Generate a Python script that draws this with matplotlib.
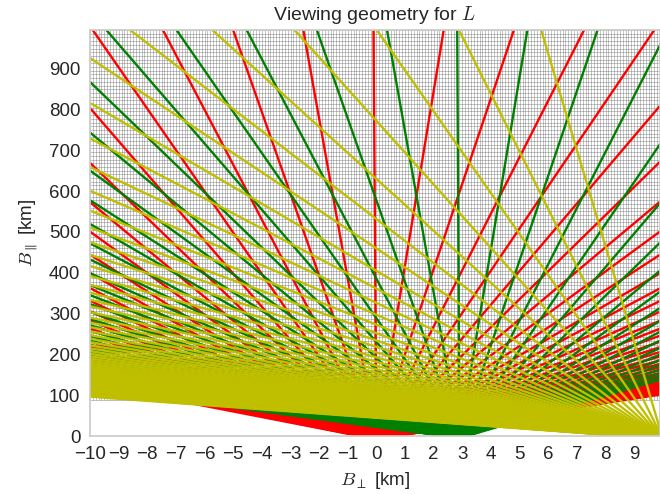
import numpy as np
import matplotlib
matplotlib.use("Agg")
import matplotlib.pyplot as plt

plt.rcParams['font.family'] = ['Liberation Sans', 'DejaVu Sans']
plt.rcParams['mathtext.fontset'] = 'cm'
plt.rcParams['text.color'] = '#262626'
plt.rcParams['axes.labelcolor'] = '#262626'
plt.rcParams['xtick.color'] = '#262626'
plt.rcParams['ytick.color'] = '#262626'

# reconstruction grid (km)
grid_x = np.arange(-10.0, 9.95, 0.1)
grid_y = np.linspace(88, 995, 101)

# cameras: origin (B_perp, B_par) and ray slopes dB_perp/dB_par
cam_names = ['red', 'green', 'yellow']
cam_colors = ['r', 'g', 'y']
cam_x = [0.0, 2.9, 10.0]
cam_y = [-8.0, -5.0, -7.0]
slope_first = [-0.0734, -0.10543, -0.00424]
slope_last = [0.0903, 0.04892, -0.1933]
n_rays = [68, 64, 67]

fig = plt.figure(figsize=(6.6, 4.94), dpi=100)
ax = fig.add_axes([90 / 660, 58 / 494, 570 / 660, 406 / 494])

# grid lines
ax.vlines(grid_x, grid_y[0], grid_y[-1], color='0.4', lw=0.5, alpha=0.55, zorder=1)
ax.hlines(grid_y, grid_x[0], grid_x[-1], color='0.4', lw=0.5, alpha=0.55, zorder=1)

y_end = 1100.0
for i in range(len(cam_names)):
    slopes = np.linspace(slope_first[i], slope_last[i], n_rays[i])
    for s in slopes:
        xs = [cam_x[i], cam_x[i] + s * (y_end - cam_y[i])]
        ys = [cam_y[i], y_end]
        ax.plot(xs, ys, color=cam_colors[i], lw=1.7, zorder=2 + i)

ax.set_xlim(-10, 9.9)
ax.set_ylim(0, 995)
ax.set_xticks(np.arange(-10, 10, 1))
ax.set_yticks(np.arange(0, 1000, 100))
ax.tick_params(labelsize=13.5, length=0, pad=7)
for sp in ax.spines.values():
    sp.set_color('#cccccc')
    sp.set_linewidth(1.25)
    sp.set_zorder(10)

ax.set_title('Viewing geometry for $L$', fontsize=14, pad=7)
ax.set_xlabel(r'$B_\perp$ [km]', fontsize=13.5, labelpad=5)
ax.set_ylabel(r'$B_\parallel$ [km]', fontsize=13.5, labelpad=6)

fig.savefig('out.png', dpi=100)
